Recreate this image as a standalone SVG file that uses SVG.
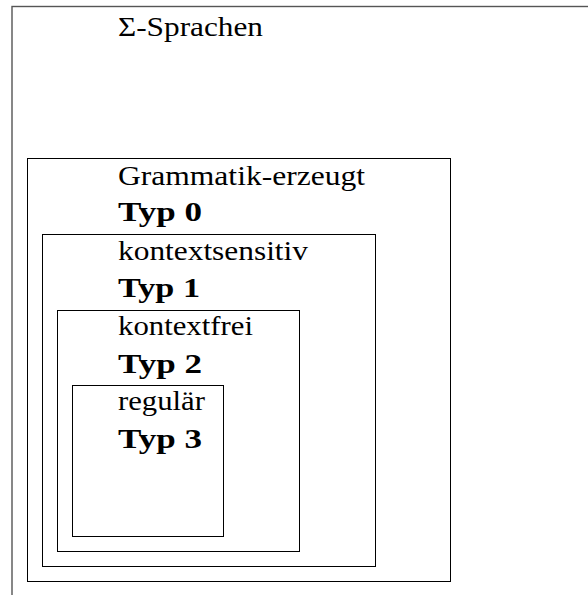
<svg xmlns="http://www.w3.org/2000/svg" width="588" height="595" viewBox="0 0 588 595">
<style>
.box{fill:none;stroke:#000;stroke-width:1}
.outer{fill:none;stroke:#555;stroke-width:1.4}
.t{font-family:"Liberation Serif","Times New Roman",serif;font-size:28px;fill:#000}
.b{font-family:"Liberation Serif","Times New Roman",serif;font-size:28px;font-weight:bold;fill:#000}
</style>
<rect width="588" height="595" fill="#fff"/>
<g id="sigma">
<rect class="outer" x="12" y="6.5" width="700" height="700"/>
<text class="t" x="118" y="36" textLength="145" lengthAdjust="spacingAndGlyphs">Σ-Sprachen</text>
</g>
<g id="typ0">
<rect class="box" x="27.5" y="158.5" width="423" height="423"/>
<text class="t" x="118" y="185" textLength="247" lengthAdjust="spacingAndGlyphs">Grammatik-erzeugt</text>
<text class="b" x="118" y="221" textLength="84" lengthAdjust="spacingAndGlyphs">Typ 0</text>
</g>
<g id="typ1">
<rect class="box" x="42.5" y="234.5" width="333" height="332"/>
<text class="t" x="118" y="260" textLength="190" lengthAdjust="spacingAndGlyphs">kontextsensitiv</text>
<text class="b" x="118" y="297" textLength="82" lengthAdjust="spacingAndGlyphs">Typ 1</text>
</g>
<g id="typ2">
<rect class="box" x="57.5" y="310.5" width="242" height="241"/>
<text class="t" x="118" y="335" textLength="135" lengthAdjust="spacingAndGlyphs">kontextfrei</text>
<text class="b" x="118" y="373" textLength="84" lengthAdjust="spacingAndGlyphs">Typ 2</text>
</g>
<g id="typ3">
<rect class="box" x="72.5" y="385.5" width="151" height="151"/>
<text class="t" x="118" y="410" textLength="87" lengthAdjust="spacingAndGlyphs">regulär</text>
<text class="b" x="118" y="448" textLength="84" lengthAdjust="spacingAndGlyphs">Typ 3</text>
</g>
<g id="connectors"/>
</svg>
